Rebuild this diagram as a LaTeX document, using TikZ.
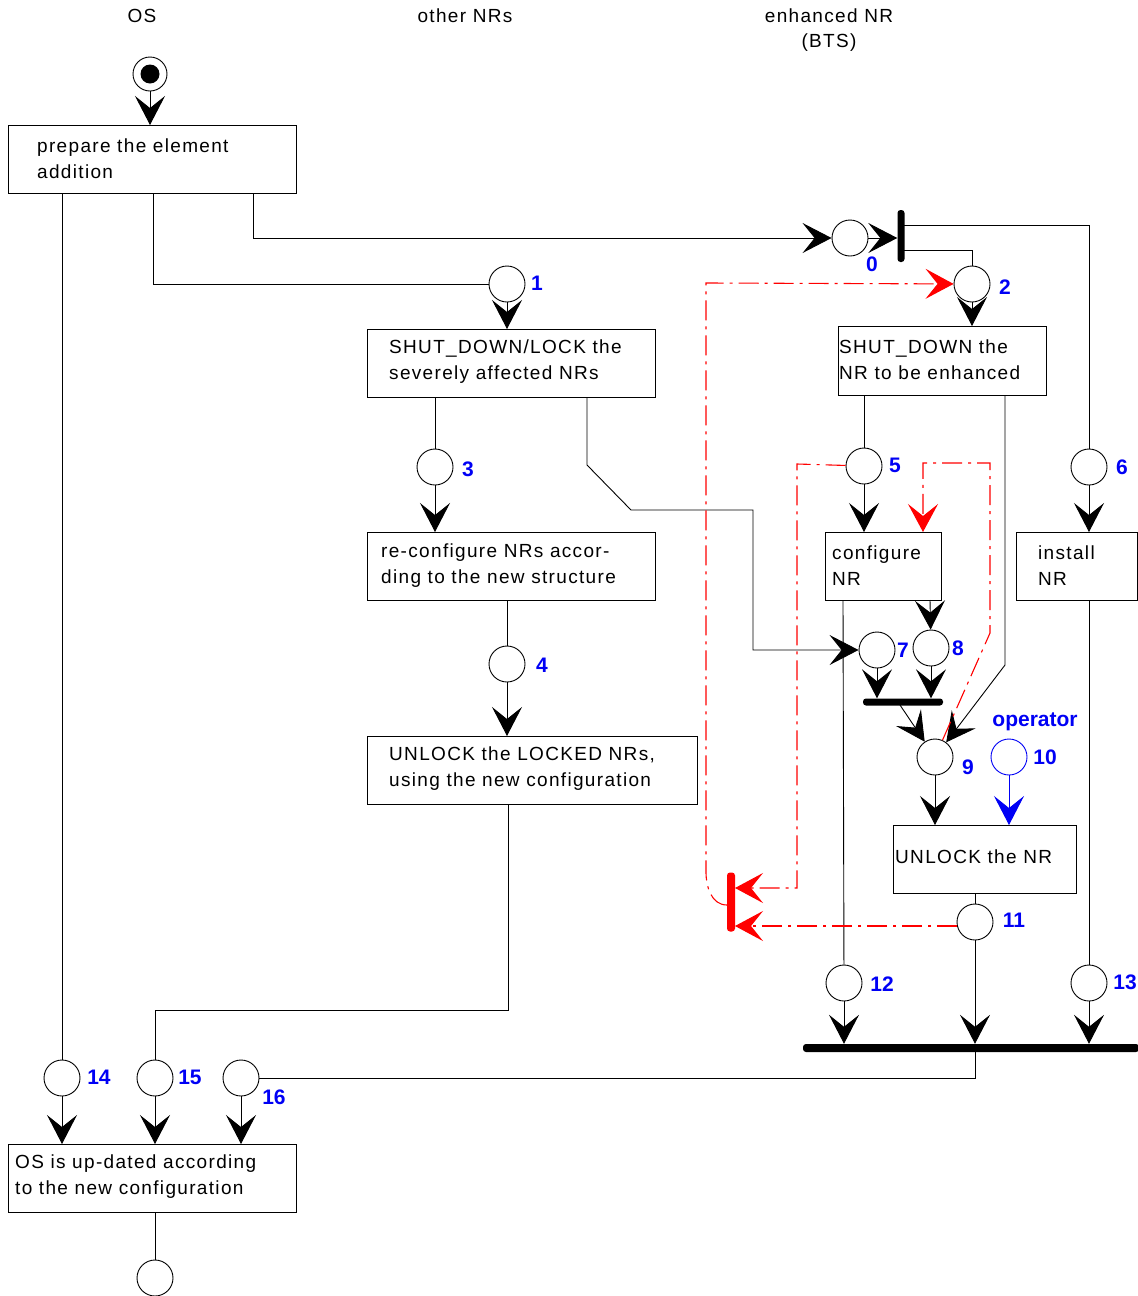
\documentclass[tikz,border=0pt]{standalone}
\usepackage{fontspec}
\setmainfont{Liberation Sans}
\newfontfamily\labfont{Liberation Sans}[LetterSpace=7]
\newfontfamily\numfont{Liberation Sans}
\usetikzlibrary{arrows.meta,calc}
\definecolor{numblue}{RGB}{0,0,245}
\definecolor{tred}{RGB}{255,0,0}
\begin{document}
\begin{tikzpicture}[x=1pt,y=-1pt,
  txt/.style={font={\labfont\fontsize{19pt}{26pt}\selectfont}, align=left, inner sep=0pt},
  ttl/.style={font={\labfont\fontsize{19pt}{25pt}\selectfont}, align=center, inner sep=0pt},
  num/.style={font={\numfont\bfseries\fontsize{21pt}{24pt}\selectfont}, text=numblue, inner sep=0pt},
  place/.style={circle, draw, line width=0.9pt, minimum size=36pt, inner sep=0pt},
  box/.style={draw, rectangle, line width=1.2pt, inner sep=0pt, anchor=north west},
  tbar/.style={rectangle, fill=black, rounded corners=3pt, inner sep=0pt, draw=none},
  ln/.style={line width=0.9pt},
  arr/.style={line width=0.9pt, -{Stealth[length=29pt,width=30pt,inset=12pt]}},
  redl/.style={draw=tred, color=tred, line width=1.1pt, dash pattern=on 20pt off 6pt on 3pt off 6pt},
  redarr/.style={-{Stealth[length=28pt,width=30pt,inset=12pt,tred]}},
  bluearr/.style={draw=numblue, line width=0.9pt, -{Stealth[length=29pt,width=30pt,inset=12pt,numblue]}}
]
\useasboundingbox (0,0) rectangle (1138,1296);

% titles
\node[ttl] (hOS) at (142,16) {OS};
\node[ttl] (hother) at (465,16) {other NRs};
\node[ttl] (henh) at (829,30) {enhanced NR\\(BTS)};

% boxes
\node[box, minimum width=288pt, minimum height=68pt] (b1) at (8,125) {};
\node[txt, anchor=west] (t1) at (37,159) {prepare the element\\addition};
\node[box, minimum width=288pt, minimum height=68pt] (b2) at (367,329) {};
\node[txt, anchor=west] (t2) at (389,362) {SHUT\_DOWN/LOCK the\\severely affected NRs};
\node[box, minimum width=208pt, minimum height=69pt] (b3) at (838,326) {};
\node[txt, anchor=west] (t3) at (839,360) {SHUT\_DOWN the\\NR to be enhanced};
\node[box, minimum width=288pt, minimum height=68pt] (b4) at (367,532) {};
\node[txt, anchor=west] (t4) at (381,566) {re-configure NRs accor-\\ding to the new structure};
\node[box, minimum width=116pt, minimum height=68pt] (b5) at (825,532) {};
\node[txt, anchor=west] (t5) at (832,566) {configure\\NR};
\node[box, minimum width=121pt, minimum height=68pt] (b6) at (1016,532) {};
\node[txt, anchor=west] (t6) at (1038,566) {install\\NR};
\node[box, minimum width=330pt, minimum height=68pt] (b7) at (367,736) {};
\node[txt, anchor=west] (t7) at (389,769) {UNLOCK the LOCKED NRs,\\using the new configuration};
\node[box, minimum width=183pt, minimum height=68pt] (b8) at (893,825) {};
\node[txt, anchor=west] (t8) at (895,857) {UNLOCK the NR};
\node[box, minimum width=288pt, minimum height=68pt] (b9) at (8,1144) {};
\node[txt, anchor=west] (t9) at (15,1177) {OS is up-dated according\\to the new configuration};

% start
\node[place, minimum size=34pt] (start) at (150,74) {};
\node[circle, fill=black, minimum size=19pt, inner sep=0pt] (startdot) at (150,74) {};

% places
\node[place] (p0) at (850,238) {};
\node[place] (p1) at (507,284) {};
\node[place] (p2) at (972,284) {};
\node[place] (p3) at (435,467) {};
\node[place] (p4) at (507,664) {};
\node[place] (p5) at (864,466) {};
\node[place] (p6) at (1089,467) {};
\node[place] (p7) at (877,650) {};
\node[place] (p8) at (931,648) {};
\node[place] (p9) at (935,757) {};
\node[place, draw=numblue] (p10) at (1009,757) {};
\node[place] (p11) at (975,922) {};
\node[place] (p12) at (844,983) {};
\node[place] (p13) at (1089,983) {};
\node[place] (p14) at (62,1078) {};
\node[place] (p15) at (155,1078) {};
\node[place] (p16) at (241,1078) {};
\node[place] (pend) at (155,1278) {};

% labels
\node[num] (l0) at (872,264) {0};
\node[num] (l1) at (537,283) {1};
\node[num] (l2) at (1005,287) {2};
\node[num] (l3) at (468,469) {3};
\node[num] (l4) at (542,665) {4};
\node[num] (l5) at (895,465) {5};
\node[num] (l6) at (1122,467) {6};
\node[num] (l7) at (903,650) {7};
\node[num] (l8) at (958,648) {8};
\node[num] (l9) at (968,767) {9};
\node[num] (l10) at (1045,757) {10};
\node[num] (l11) at (1014,920) {11};
\node[num] (l12) at (882,984) {12};
\node[num] (l13) at (1125,982) {13};
\node[num] (l14) at (99,1077) {14};
\node[num] (l15) at (190,1077) {15};
\node[num] (l16) at (274,1097) {16};
\node[num] (lop) at (1035,722) {operator};

% transitions
\node[tbar, minimum width=7pt, minimum height=52pt] (tb0) at (901,236) {};
\node[tbar, minimum width=80pt, minimum height=7pt] (tb1) at (903,702) {};
\node[tbar, minimum width=336pt, minimum height=8pt] (tb2) at (971,1048) {};
\node[tbar, fill=tred, minimum width=8pt, minimum height=59pt] (tbr) at (731,902) {};

% coordinates
\coordinate (c1) at (153,193);
\coordinate (c2) at (253,193);
\coordinate (c3) at (904,225);
\coordinate (c4) at (904,250);
\coordinate (c5) at (587,397);
\coordinate (c6) at (508,804);
\coordinate (c7) at (1005,395);
\coordinate (c8) at (930,600);
\coordinate (c9) at (843,600);
\coordinate (c10) at (900,705);
\coordinate (c11) at (975,1052);
\coordinate (cr1) at (727,905);
\coordinate (cr2) at (735,888);
\coordinate (cr3) at (923,532);
\coordinate (cr4) at (957,926);
\coordinate (cr5) at (735,926);

% black connectors
\draw[arr] (start) -- (b1.north -| start);
\draw[ln] (b1.south -| p14) -- (p14);
\draw[ln] (c1) |- (p1);
\draw[arr] (c2) |- (p0);
\draw[arr] (p0) -- (p0 -| tb0.west);
\draw[ln] (c3) -| (p6);
\draw[ln] (c4) -| (p2);
\draw[arr] (p2) -- (b3.north -| p2);
\draw[arr] (p1) -- (b2.north -| p1);
\draw[ln] (b2.south -| p3) -- (p3);
\draw[arr] (c5) -- (587,465) -- (631,510) -- (753,510) |- (p7);
\draw[arr] (p3) -- (b4.north -| p3);
\draw[ln] (b4.south -| p4) -- (p4);
\draw[arr] (p4) -- (b7.north -| p4);
\draw[ln] (c6) -- (508,1010) -| (p15);
\draw[ln] (b3.south -| p5) -- (p5);
\draw[arr] (c7) -- (1005,665) -- (p9);
\draw[arr] (p5) -- (b5.north -| p5);
\draw[arr] (c8) -- (p8);
\draw[ln] (c9) -- (p12);
\draw[arr] (p7) -- (p7 |- tb1.north);
\draw[arr] (p8) -- (p8 |- tb1.north);
\draw[arr] (c10) -- (p9);
\draw[arr] (p9) -- (b8.north -| p9);
\draw[bluearr] (p10) -- (b8.north -| p10);
\draw[ln] (b8.south -| p11) -- (p11);
\draw[arr] (p11) -- (p11 |- tb2.north);
\draw[arr] (p6) -- (b6.north -| p6);
\draw[ln] (b6.south -| p13) -- (p13);
\draw[arr] (p12) -- (p12 |- tb2.north);
\draw[arr] (p13) -- (p13 |- tb2.north);
\draw[ln] (c11) |- (p16);
\draw[arr] (p14) -- (b9.north -| p14);
\draw[arr] (p15) -- (b9.north -| p15);
\draw[arr] (p16) -- (b9.north -| p16);
\draw[ln] (b9.south -| pend) -- (pend);

% red connectors
\draw[redl, redarr] (cr1) to[out=180,in=-90] (706,872) -- (706,283) -- (p2);
\draw[redl, redarr] (p5) -- (797,464) -- (797,888) -- (cr2);
\draw[redl, redarr] (cr4) -- (cr5);
\draw[redl, redarr] (p9) -- (990,633) -- (990,463) -- (923,463) -- (cr3);
\end{tikzpicture}
\end{document}
